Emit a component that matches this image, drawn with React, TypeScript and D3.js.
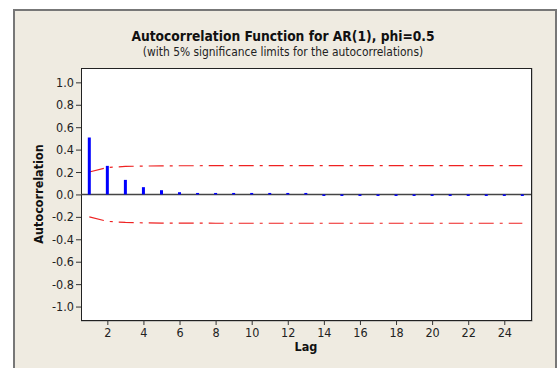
import React, { useRef, useEffect } from "react";
import * as d3 from "d3";

// values
const lags = d3.range(1, 26);
const acf = [
  0.508, 0.255, 0.13, 0.065, 0.038, 0.02, 0.01, 0.005, 0.003, 0.002, 0.001, 0.001, 0.001,
  -0.007, -0.007, -0.007, -0.007, -0.007, -0.007, -0.007, -0.007, -0.007, -0.007, -0.007, -0.007,
];
const sigLimit = [
  0.2, 0.24, 0.25, 0.253, 0.255, 0.256, 0.256, 0.257, 0.257, 0.257, 0.257, 0.257, 0.257,
  0.257, 0.257, 0.257, 0.257, 0.257, 0.257, 0.257, 0.257, 0.257, 0.257, 0.257, 0.257,
];
const yTicks = [-1.0, -0.8, -0.6, -0.4, -0.2, 0.0, 0.2, 0.4, 0.6, 0.8, 1.0];
const xTicks = [2, 4, 6, 8, 10, 12, 14, 16, 18, 20, 22, 24];

const title = "Autocorrelation Function for AR(1), phi=0.5";
const subtitle = "(with 5% significance limits for the autocorrelations)";

const App = () => {
  const ref = useRef<SVGSVGElement>(null);

  useEffect(() => {
    const width = 559;
    const height = 368;
    const plot = { left: 81, right: 531, top: 68, bottom: 320 };
    const font = "'DejaVu Sans Condensed', 'DejaVu Sans', sans-serif";
    const textColor = "#222";
    const tickFont = "12.5px";

    const svg = d3.select(ref.current).attr("width", width).attr("height", height);
    svg.selectAll("*").remove();

    // outer frame
    svg.append("rect").attr("width", width).attr("height", height).attr("fill", "#fff");
    svg.append("rect")
      .attr("x", 14).attr("y", 10)
      .attr("width", 542).attr("height", 370)
      .attr("fill", "#efebe1")
      .attr("stroke", "#777").attr("stroke-width", 2);

    // titles
    svg.append("text")
      .attr("x", 283).attr("y", 41)
      .attr("text-anchor", "middle")
      .style("font-family", font).style("font-size", "13.7px").style("font-weight", "bold")
      .style("fill", "#111")
      .text(title);
    svg.append("text")
      .attr("x", 283).attr("y", 56)
      .attr("text-anchor", "middle")
      .style("font-family", font).style("font-size", "11.9px")
      .style("fill", textColor)
      .text(subtitle);

    const xScale = d3.scaleLinear().domain([0.54, 25.48]).range([plot.left, plot.right]);
    const yScale = d3.scaleLinear().domain([-1.12, 1.128]).range([plot.bottom, plot.top]);

    // plot area
    svg.append("line")
      .attr("x1", plot.right + 1).attr("x2", plot.right + 1)
      .attr("y1", plot.top).attr("y2", plot.bottom + 1)
      .attr("stroke", "#999").attr("stroke-width", 1);
    svg.append("line")
      .attr("x1", plot.left).attr("x2", plot.right + 1.5)
      .attr("y1", plot.bottom + 1).attr("y2", plot.bottom + 1)
      .attr("stroke", "#999").attr("stroke-width", 1);
    svg.append("rect")
      .attr("x", plot.left + 0.5).attr("y", plot.top + 0.5)
      .attr("width", plot.right - plot.left).attr("height", plot.bottom - plot.top)
      .attr("fill", "#fff").attr("stroke", "#222").attr("stroke-width", 1);

    // Y axis
    const yAxis = svg.append("g")
      .attr("transform", `translate(${plot.left},0)`)
      .call(d3.axisLeft(yScale).tickValues(yTicks).tickFormat(d3.format(".1f")).tickSize(5).tickPadding(2));
    yAxis.select(".domain").remove();
    yAxis.selectAll("text")
      .style("font-family", font).style("font-size", tickFont).style("fill", textColor)
      .text((d: any) => d3.format(".1f")(d).replace("−", "-"));
    yAxis.selectAll(".tick line").attr("stroke", "#333");

    // X axis
    const xAxis = svg.append("g")
      .attr("transform", `translate(0,${plot.bottom})`)
      .call(d3.axisBottom(xScale).tickValues(xTicks).tickFormat(d3.format("d")).tickSize(5).tickPadding(3));
    xAxis.select(".domain").remove();
    xAxis.selectAll("text")
      .style("font-family", font).style("font-size", tickFont).style("fill", textColor);
    xAxis.selectAll(".tick line").attr("stroke", "#333");

    // axis titles
    svg.append("text")
      .attr("transform", `translate(43,${(plot.top + plot.bottom) / 2}) rotate(-90)`)
      .attr("text-anchor", "middle")
      .style("font-family", font).style("font-size", "12.5px").style("font-weight", "bold")
      .style("fill", "#111")
      .text("Autocorrelation");
    svg.append("text")
      .attr("x", (plot.left + plot.right) / 2).attr("y", 351)
      .attr("text-anchor", "middle")
      .style("font-family", font).style("font-size", "12.5px").style("font-weight", "bold")
      .style("fill", "#111")
      .text("Lag");

    // zero line
    svg.append("line")
      .attr("x1", plot.left).attr("x2", plot.right)
      .attr("y1", yScale(0)).attr("y2", yScale(0))
      .attr("stroke", "#444").attr("stroke-width", 1.5);

    // significance limits
    const upper = d3.line<number>()
      .x((d, i) => xScale(lags[i]))
      .y(d => yScale(d));
    const lower = d3.line<number>()
      .x((d, i) => xScale(lags[i]))
      .y(d => yScale(-d));
    [upper, lower].forEach(gen => {
      svg.append("path")
        .datum(sigLimit)
        .attr("fill", "none")
        .attr("stroke", "#ee2222")
        .attr("stroke-width", 1.2)
        .attr("stroke-dasharray", "15 6 3 6")
        .attr("d", gen);
    });

    // spikes
    svg.selectAll(".spike")
      .data(acf)
      .join("line")
      .attr("class", "spike")
      .attr("x1", (d, i) => xScale(lags[i]))
      .attr("x2", (d, i) => xScale(lags[i]))
      .attr("y1", yScale(0))
      .attr("y2", d => {
        const y = yScale(d);
        const y0 = yScale(0);
        // very small values still show as a tiny blue mark
        if (Math.abs(y - y0) < 1.5) return d < 0 ? y0 + 1.5 : y0 - 1.5;
        return y;
      })
      .attr("stroke", "#0000ff")
      .attr("stroke-width", 3);
  }, []);

  return (
    <div style={{ position: "absolute", left: 0, top: 0 }}>
      <svg ref={ref}></svg>
    </div>
  );
};

export default App;
